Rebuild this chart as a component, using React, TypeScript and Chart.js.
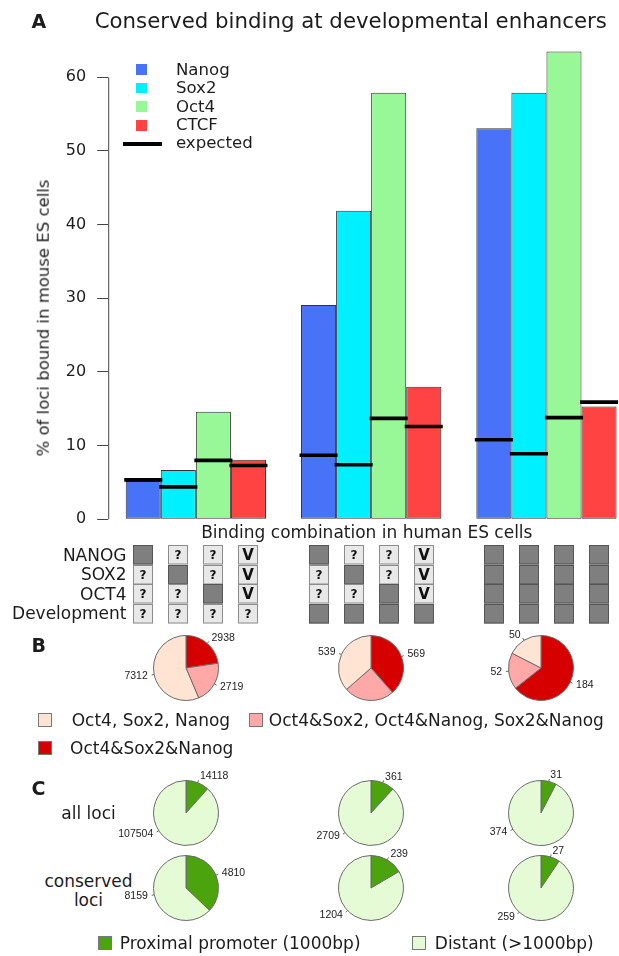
import React, { useEffect, useRef } from "react";
import { Chart, registerables } from "chart.js";

Chart.register(...registerables);

const FONT = "'DejaVu Sans', sans-serif";
const PIE_FONT = "'Liberation Sans', Arial, sans-serif";

// ---------- Panel A data ----------
const categories = ["Single factor", "Single factor + development", "All factors + development"];
const factors = ["Nanog", "Sox2", "Oct4", "CTCF"];
const nanogPct = [5.2, 29.1, 53.1];
const sox2Pct = [6.7, 41.9, 57.9];
const oct4Pct = [14.6, 57.9, 63.5];
const ctcfPct = [8.1, 18.0, 15.3];
const nanogExpected = [5.35, 8.7, 10.8];
const sox2Expected = [4.4, 7.4, 8.9];
const oct4Expected = [8.0, 13.7, 13.8];
const ctcfExpected = [7.3, 12.6, 15.9];
const yTicks = [0, 10, 20, 30, 40, 50, 60];

// binding-combination grid: D = bound, ? = unknown, V = any
const gridRows = ["NANOG", "SOX2", "OCT4", "Development"];
const gridGroup1 = ["D???", "?D??", "??D?", "VVV?"];
const gridGroup2 = ["D??D", "?D?D", "??DD", "VVVD"];
const gridGroup3 = ["DDDD", "DDDD", "DDDD", "DDDD"];

// ---------- Panel B data ----------
const motifNames = ["Oct4, Sox2, Nanog", "Oct4&Sox2, Oct4&Nanog, Sox2&Nanog", "Oct4&Sox2&Nanog"];
const motifTriple = [2938, 569, 184];
const motifPair = [2719, 370, 52];
const motifSingle = [7312, 539, 50];
const motifTripleLabel = ["2938", "569", "184"];
const motifPairLabel = ["2719", "", "52"];
const motifSingleLabel = ["7312", "539", "50"];

// ---------- Panel C data ----------
const locusNames = ["Proximal promoter (1000bp)", "Distant (>1000bp)"];
const proximalAll = [14118, 361, 31];
const distantAll = [107504, 2709, 374];
const proximalConserved = [4810, 239, 27];
const distantConserved = [8159, 1204, 259];

// ---------- styles / layout ----------
const barColors = ["#4872F8", "#00F0FF", "#98F898", "#FF4242"];
const motifColors = ["#D60000", "#FFA8A8", "#FFE4D4"];
const locusColors = ["#4BA30D", "#E4FBD6"];
const distantLabelAngleAll = [237, 233, 240];
const distantLabelAngleCons = [258, 226, 222];
const pieCx = [185.6, 370.8, 541];

const seriesPct = [nanogPct, sox2Pct, oct4Pct, ctcfPct];
const seriesExp = [nanogExpected, sox2Expected, oct4Expected, ctcfExpected];
const gridGroups = [gridGroup1, gridGroup2, gridGroup3];

const MAIN_W = 640;
const MAIN_H = 630;

const mainPlugin = {
  id: "mainExtras",
  afterDatasetsDraw(chart: any) {
    const ctx = chart.ctx;
    const y = chart.scales.y;
    // expected lines
    ctx.save();
    ctx.strokeStyle = "#000";
    ctx.lineWidth = 3.6;
    seriesExp.forEach((arr, i) => {
      const meta = chart.getDatasetMeta(i);
      arr.forEach((v, j) => {
        const bar: any = meta.data[j];
        const py = y.getPixelForValue(v);
        ctx.beginPath();
        ctx.moveTo(bar.x - bar.width / 2 - 1.5, py);
        ctx.lineTo(bar.x + bar.width / 2 + 1.5, py);
        ctx.stroke();
      });
    });
    // y axis line from first to last tick
    const ax = chart.chartArea.left;
    ctx.strokeStyle = "#444";
    ctx.lineWidth = 1;
    ctx.beginPath();
    ctx.moveTo(ax + 0.5, y.getPixelForValue(yTicks[0]));
    ctx.lineTo(ax + 0.5, y.getPixelForValue(yTicks[yTicks.length - 1]));
    ctx.stroke();

    // grid of binding combinations under each bar
    const cellTop = chart.chartArea.bottom + 25.7;
    const cellH = 19.5;
    const cellW = 20;
    gridGroups.forEach((grp, j) => {
      grp.forEach((states, i) => {
        const bar: any = chart.getDatasetMeta(i).data[j];
        for (let k = 0; k < states.length; k++) {
          const st = states[k];
          const x0 = Math.round(bar.x - cellW / 2);
          const y0 = Math.round(cellTop + k * cellH);
          ctx.fillStyle = st === "D" ? "#7f7f7f" : "#e8e8e8";
          ctx.fillRect(x0, y0, cellW, cellH);
          ctx.strokeStyle = st === "D" ? "#555" : "#8c8c8c";
          ctx.lineWidth = 1;
          ctx.strokeRect(x0 + 0.5, y0 + 0.5, cellW - 1, cellH - 1);
          if (st !== "D") {
            ctx.fillStyle = "#111";
            ctx.font = st === "V" ? `bold 15px ${FONT}` : `bold 12px ${FONT}`;
            ctx.textAlign = "center";
            ctx.textBaseline = "middle";
            ctx.fillText(st, x0 + cellW / 2, y0 + cellH / 2 + 1);
          }
        }
      });
    });
    ctx.restore();
  },
};

const pieLabelPlugin = {
  id: "pieLabels",
  afterDatasetsDraw(chart: any, _args: any, opts: any) {
    const ctx = chart.ctx;
    const meta = chart.getDatasetMeta(0);
    ctx.save();
    meta.data.forEach((arc: any, i: number) => {
      const lab = opts.labels[i];
      if (!lab) return;
      const p = arc.getProps(["startAngle", "endAngle", "outerRadius", "x", "y"], true);
      let mid = (p.startAngle + p.endAngle) / 2;
      const ov = opts.angles ? opts.angles[i] : null;
      if (ov !== null && ov !== undefined) mid = ((ov - 90) * Math.PI) / 180;
      const c = Math.cos(mid);
      const s = Math.sin(mid);
      const r = p.outerRadius;
      ctx.strokeStyle = "#666";
      ctx.lineWidth = 1;
      ctx.beginPath();
      ctx.moveTo(p.x + c * r, p.y + s * r);
      ctx.lineTo(p.x + c * r * 1.08, p.y + s * r * 1.08);
      ctx.stroke();
      ctx.fillStyle = "#222";
      ctx.font = `10.5px ${PIE_FONT}`;
      ctx.textAlign = c >= 0 ? "left" : "right";
      ctx.textBaseline = "middle";
      ctx.fillText(lab, p.x + c * r * 1.2, p.y + s * r * 1.2);
    });
    ctx.restore();
  },
};

function PieChart(props: { cx: number; cy: number; values: number[]; colors: string[]; names: string[]; labels: string[]; angles?: (number | null)[] }) {
  const ref = useRef<HTMLCanvasElement | null>(null);
  const W = 170;
  const H = 100;
  const R = 33;
  useEffect(() => {
    const chart = new Chart(ref.current as HTMLCanvasElement, {
      type: "pie",
      data: {
        labels: props.names,
        datasets: [
          {
            data: props.values,
            backgroundColor: props.colors,
            borderColor: "#6a6a6a",
            borderWidth: 1,
          },
        ],
      },
      options: {
        responsive: false,
        animation: false,
        events: [],
        layout: { padding: { left: W / 2 - R, right: W / 2 - R, top: H / 2 - R, bottom: H / 2 - R } },
        plugins: {
          legend: { display: false },
          tooltip: { enabled: false },
          pieLabels: { labels: props.labels, angles: props.angles || null },
        } as any,
      },
      plugins: [pieLabelPlugin],
    });
    return () => chart.destroy();
  }, []);
  return (
    <canvas
      ref={ref}
      width={W}
      height={H}
      style={{ position: "absolute", left: props.cx - W / 2, top: props.cy - H / 2, width: W, height: H }}
    />
  );
}

function T(props: { x: number; y: number; align?: string; size?: number; bold?: boolean; rotate?: boolean; font?: string; children: any }) {
  const align = props.align || "left";
  const tx = align === "left" ? "0" : align === "center" ? "-50%" : "-100%";
  const transform = props.rotate ? `translate(-50%, -50%) rotate(-90deg)` : `translate(${tx}, -50%)`;
  return (
    <div
      style={{
        position: "absolute",
        left: props.x,
        top: props.y,
        transform,
        fontSize: props.size || 17,
        fontWeight: props.bold ? 700 : 400,
        lineHeight: 1,
        whiteSpace: "nowrap",
        fontFamily: props.font || FONT,
        color: "#1c1c1c",
      }}
    >
      {props.children}
    </div>
  );
}

function Swatch(props: { x: number; y: number; size: number; color: string; border?: string }) {
  return (
    <div
      style={{
        position: "absolute",
        left: props.x,
        top: props.y - props.size / 2,
        width: props.size,
        height: props.size,
        background: props.color,
        boxSizing: "border-box",
        border: props.border ? `1px solid ${props.border}` : "none",
      }}
    />
  );
}

export default function App() {
  const mainRef = useRef<HTMLCanvasElement | null>(null);

  useEffect(() => {
    Chart.defaults.font.family = FONT;
    const chart = new Chart(mainRef.current as HTMLCanvasElement, {
      type: "bar",
      data: {
        labels: categories,
        datasets: factors.map((f, i) => ({
          label: f,
          data: seriesPct[i],
          backgroundColor: barColors[i],
          borderColor: "#333",
          borderWidth: 1,
          borderSkipped: false,
          categoryPercentage: 0.8,
          barPercentage: 1.0,
        })),
      },
      options: {
        responsive: false,
        animation: false,
        events: [],
        layout: { padding: { left: 0, right: MAIN_W - 634.1, top: 33.1, bottom: MAIN_H - 519.3 } },
        plugins: { legend: { display: false }, tooltip: { enabled: false } },
        scales: {
          x: { display: false, offset: true },
          y: {
            min: 0,
            max: 66,
            afterBuildTicks: (s: any) => {
              s.ticks = yTicks.map((v) => ({ value: v }));
            },
            afterFit: (s: any) => {
              s.width = 108.2;
            },
            ticks: { font: { family: FONT, size: 16 }, color: "#1c1c1c", padding: 11 },
            grid: { drawOnChartArea: false, drawTicks: true, tickLength: 11, color: "#444", lineWidth: 1 },
            border: { display: false },
          },
        },
      },
      plugins: [mainPlugin],
    });
    return () => chart.destroy();
  }, []);

  const legendRowsY = [69.5, 88.1, 106.7, 125.3, 143.9];
  const gridRowY = [554.7, 574.2, 593.7, 613.2];

  return (
    <div
      style={{
        position: "absolute",
        left: 0,
        top: 0,
        width: 619,
        height: 956,
        overflow: "hidden",
        background: "#fff",
        fontFamily: FONT,
      }}
    >
      <canvas
        ref={mainRef}
        width={MAIN_W}
        height={MAIN_H}
        style={{ position: "absolute", left: 0, top: 0, width: MAIN_W, height: MAIN_H }}
      />

      {/* Panel A headings */}
      <T x={31.6} y={20.7} bold size={19}>A</T>
      <T x={350.8} y={20.7} align="center" size={21.3}>Conserved binding at developmental enhancers</T>
      <T x={44} y={318} rotate size={16.5}>% of loci bound in mouse ES cells</T>
      <T x={366.8} y={531.7} align="center" size={17}>Binding combination in human ES cells</T>

      {/* Panel A legend */}
      {factors.map((f, i) => (
        <React.Fragment key={f}>
          <Swatch x={136.4} y={legendRowsY[i]} size={10.6} color={barColors[i]} />
          <T x={175.9} y={legendRowsY[i]} size={16.6}>{f}</T>
        </React.Fragment>
      ))}
      <div style={{ position: "absolute", left: 123.3, top: legendRowsY[4] - 2, width: 38.7, height: 4, background: "#000" }} />
      <T x={175.9} y={legendRowsY[4] - 1} size={16.6}>expected</T>

      {/* grid row labels */}
      {gridRows.map((r, k) => (
        <T key={r} x={126.5} y={gridRowY[k]} align="right" size={17}>{r}</T>
      ))}

      {/* Panel B */}
      <T x={31.6} y={645} bold size={19}>B</T>
      {pieCx.map((cx, j) => (
        <PieChart
          key={"b" + j}
          cx={cx}
          cy={667.5}
          values={[motifTriple[j], motifPair[j], motifSingle[j]]}
          colors={motifColors}
          names={[motifNames[2], motifNames[1], motifNames[0]]}
          labels={[motifTripleLabel[j], motifPairLabel[j], motifSingleLabel[j]]}
        />
      ))}
      <Swatch x={38.3} y={720.3} size={14} color={motifColors[2]} border="#777" />
      <T x={71.7} y={720.3} size={17}>{motifNames[0]}</T>
      <Swatch x={249} y={720.3} size={14} color={motifColors[1]} border="#777" />
      <T x={268.8} y={720.3} size={17}>{motifNames[1]}</T>
      <Swatch x={38.3} y={748} size={14} color={motifColors[0]} border="#777" />
      <T x={70} y={748} size={17}>{motifNames[2]}</T>

      {/* Panel C */}
      <T x={31.6} y={788.3} bold size={19}>C</T>
      <T x={88.5} y={813.3} align="center" size={17}>all loci</T>
      <T x={88.5} y={880.7} align="center" size={17}>conserved</T>
      <T x={88.5} y={900} align="center" size={17}>loci</T>
      {pieCx.map((cx, j) => (
        <PieChart
          key={"ca" + j}
          cx={cx}
          cy={812.5}
          values={[proximalAll[j], distantAll[j]]}
          colors={locusColors}
          names={locusNames}
          labels={[String(proximalAll[j]), String(distantAll[j])]}
          angles={[null, distantLabelAngleAll[j]]}
        />
      ))}
      {pieCx.map((cx, j) => (
        <PieChart
          key={"cc" + j}
          cx={cx}
          cy={888.3}
          values={[proximalConserved[j], distantConserved[j]]}
          colors={locusColors}
          names={locusNames}
          labels={[String(proximalConserved[j]), String(distantConserved[j])]}
          angles={[null, distantLabelAngleCons[j]]}
        />
      ))}
      <Swatch x={98} y={943} size={14} color={locusColors[0]} border="#777" />
      <T x={119.8} y={943} size={17}>{locusNames[0]}</T>
      <Swatch x={412} y={943} size={14} color={locusColors[1]} border="#777" />
      <T x={434.8} y={943} size={17}>{locusNames[1]}</T>
    </div>
  );
}
